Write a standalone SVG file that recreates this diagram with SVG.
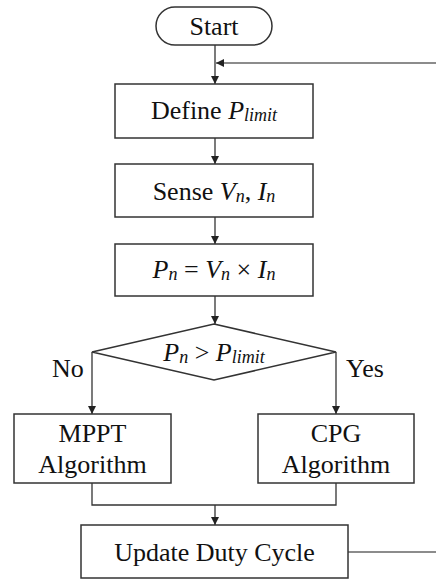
<svg xmlns="http://www.w3.org/2000/svg" width="436" height="579" viewBox="0 0 436 579">
  <defs>
    <marker id="arrow" viewBox="0 0 10 10" refX="10" refY="5" markerWidth="8" markerHeight="8" markerUnits="userSpaceOnUse" orient="auto">
      <path d="M0,0 L10,5 L0,10 z" fill="#222"/>
    </marker>
    <style>
      .shape { fill: #fff; stroke: #333; stroke-width: 1.5; }
      .wire { fill: none; stroke: #333; stroke-width: 1.3; }
      .loop { fill: none; stroke: #666; stroke-width: 1.5; }
      .label { font-family: 'Liberation Serif', 'DejaVu Serif', serif; font-size: 26px; fill: #111; }
      .c { text-anchor: middle; }
      .i { font-style: italic; }
      .sub { font-style: italic; font-size: 18px; }
    </style>
  </defs>

  <!-- connectors -->
  <g id="connectors">
    <line class="wire" x1="215" y1="45" x2="215" y2="84" marker-end="url(#arrow)"/>
    <line class="loop" x1="436" y1="63" x2="216" y2="63" marker-end="url(#arrow)"/>
    <line class="wire" x1="215" y1="138" x2="215" y2="164" marker-end="url(#arrow)"/>
    <line class="wire" x1="215" y1="217" x2="215" y2="244" marker-end="url(#arrow)"/>
    <line class="wire" x1="215" y1="296" x2="215" y2="324" marker-end="url(#arrow)"/>
    <polyline class="wire" points="92,352 92,414" marker-end="url(#arrow)"/>
    <polyline class="wire" points="336,352 336,414" marker-end="url(#arrow)"/>
    <polyline class="wire" points="92,483 92,505 336,505 336,483"/>
    <line class="wire" x1="215" y1="505" x2="215" y2="525" marker-end="url(#arrow)"/>
    <line class="loop" x1="348" y1="552" x2="436" y2="552"/>
  </g>

  <g class="label" font-family="Liberation Serif, serif">
    <!-- start terminal -->
    <g id="start">
      <rect class="shape" x="156" y="7" width="116" height="38" rx="19" ry="19"/>
      <text class="c" x="214" y="35">Start</text>
    </g>

    <g id="define">
      <rect class="shape" x="115" y="84" width="198" height="54"/>
      <text class="c" x="214" y="119">Define <tspan class="i">P</tspan><tspan class="sub" dy="2">limit</tspan></text>
    </g>

    <g id="sense">
      <rect class="shape" x="115" y="164" width="198" height="53"/>
      <text class="c" x="214" y="200">Sense <tspan class="i">V</tspan><tspan class="sub" dy="2">n</tspan><tspan dy="-2">, </tspan><tspan class="i">I</tspan><tspan class="sub" dy="2">n</tspan></text>
    </g>

    <g id="power">
      <rect class="shape" x="115" y="244" width="198" height="52"/>
      <text class="c" x="214" y="278"><tspan class="i">P</tspan><tspan class="sub" dy="2">n</tspan><tspan dy="-2"> = </tspan><tspan class="i">V</tspan><tspan class="sub" dy="2">n</tspan><tspan dy="-2"> × </tspan><tspan class="i">I</tspan><tspan class="sub" dy="2">n</tspan></text>
    </g>

    <g id="decision">
      <polygon class="shape" points="214,324 336,352 214,380 92,352"/>
      <text class="c" x="214" y="361"><tspan class="i">P</tspan><tspan class="sub" dy="2">n</tspan><tspan dy="-2"> &gt; </tspan><tspan class="i">P</tspan><tspan class="sub" dy="2">limit</tspan></text>
      <text x="52" y="377">No</text>
      <text x="346" y="377">Yes</text>
    </g>

    <g id="mppt">
      <rect class="shape" x="14" y="414" width="157" height="69"/>
      <text class="c" x="92.5" y="442">MPPT</text>
      <text class="c" x="92.5" y="473">Algorithm</text>
    </g>

    <g id="cpg">
      <rect class="shape" x="258" y="414" width="156" height="69"/>
      <text class="c" x="336" y="442">CPG</text>
      <text class="c" x="336" y="473">Algorithm</text>
    </g>

    <g id="update">
      <rect class="shape" x="81" y="525" width="267" height="53"/>
      <text class="c" x="214.5" y="561">Update Duty Cycle</text>
    </g>
  </g>
</svg>
